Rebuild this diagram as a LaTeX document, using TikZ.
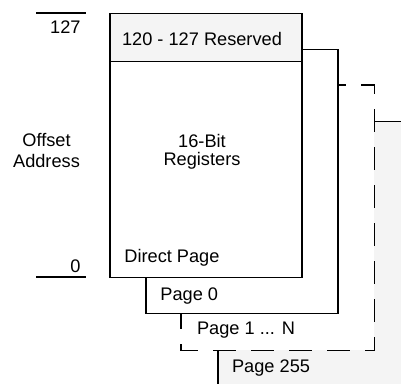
\documentclass[tikz,border=0pt]{standalone}
\usepackage{fontspec}
\setmainfont{Liberation Sans}
\usetikzlibrary{positioning}
\definecolor{shade}{HTML}{F4F4F4}

\begin{document}
\begin{tikzpicture}[x=0.5pt, y=-0.5pt,
    page/.style={rectangle, draw, line width=0.75pt, fill=white, minimum width=96pt, minimum height=132pt, inner sep=0pt, anchor=north west},
    lbl/.style={font=\fontsize{9.1}{10.5}\selectfont, inner sep=0pt},
    dashedge/.style={line width=0.75pt, dash pattern=on 11.5pt off 7.5pt, dash phase=7pt},
    addr/.style={line width=0.75pt}]
    \clip (0,0) rectangle (401,384);
    % stacked pages, back to front
    \node[page, fill=shade] (p255) at (217,121) {};
    \node[page, draw=none] (p1) at (181,85) {};
    \draw[dashedge] (337,85) -- (p1.north east) -- (p1.south east) -- (p1.south west) -- (181,313);
    \node[page] (p0) at (145,49) {};
    \node[page] (dp) at (109,13) {};
    \node[page, fill=shade, minimum height=24pt] (rsv) at (109,13) {};
    % page labels
    \node[lbl, anchor=base] (rsvtext) at (202,45.3) {120 - 127 Reserved};
    \node[lbl, align=center, font=\fontsize{9.1}{9.2}\selectfont] (regs) at (202,152) {16-Bit\\Registers};
    \node[lbl, anchor=base west] (dptext) at (124,262.7) {Direct Page};
    \node[lbl, anchor=base west] (p0text) at (160,300) {Page 0};
    \node[lbl, anchor=base west] (p1text) at (196.7,335) {Page 1 ... N};
    \node[lbl, anchor=base west] (p255text) at (231.7,372.7) {Page 255};
    % address scale
    \draw[addr] (36,13) -- (86,13);
    \draw[addr] (36,277) -- (86,277);
    \node[lbl, anchor=base east] (top) at (81,33.3) {127};
    \node[lbl, anchor=base east] (bot) at (81,272.7) {0};
    \node[lbl, align=center] (offset) at (46.5,151) {Offset\\Address};
\end{tikzpicture}
\end{document}
